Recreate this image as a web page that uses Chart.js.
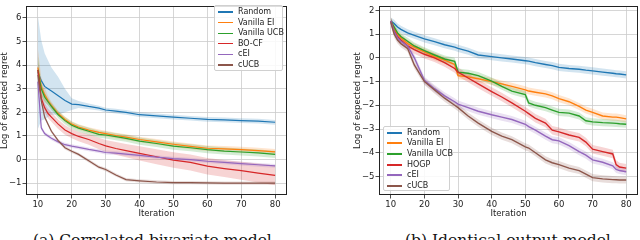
<!DOCTYPE html>
<html><head><meta charset="utf-8">
<script src="https://cdn.jsdelivr.net/npm/chart.js@4"></script>
<style>
html,body{margin:0;padding:0;background:#fff;width:640px;height:240px;overflow:hidden;position:relative;font-family:"DejaVu Sans",sans-serif;}
canvas{position:absolute;top:0;}
.legend{position:absolute;background:rgba(255,255,255,0.85);border:1px solid #d0d0d0;border-radius:2px;box-sizing:border-box;}
.item{position:absolute;left:0;height:10px;font-size:8px;line-height:10px;color:#222;white-space:nowrap;}
.item i{position:absolute;top:4.5px;width:15px;height:1.3px;}
.item span{position:absolute;}
.cap{position:absolute;top:231px;font-family:"DejaVu Serif",serif;font-size:15.5px;color:#111;white-space:nowrap;}
</style></head>
<body>
<canvas id="c1" width="320" height="220" style="left:0;width:320px;height:220px"></canvas>
<canvas id="c2" width="320" height="220" style="left:320px;width:320px;height:220px"></canvas>
<div id="lg1" class="legend" style="left:214px;top:5px;width:69px;height:66px"></div>
<div id="lg2" class="legend" style="left:383px;top:126px;width:67px;height:65px"></div>
<div class="cap" style="left:33px">(a) Correlated bivariate model</div>
<div class="cap" style="left:405px">(b) Identical output model</div>
<script>
// ---------------- data: left chart ----------------
const itersA = [10,11,12,13,14,16,18,20,22,25,28,30,33,36,40,45,50,55,60,65,70,75,80];
const namesA = ['Random','Vanilla EI','Vanilla UCB','BO-CF','cEI','cUCB'];
const randomA = [3.7,3.35,3.1,3.0,2.9,2.7,2.5,2.35,2.33,2.25,2.18,2.1,2.05,2.0,1.9,1.85,1.8,1.75,1.7,1.68,1.65,1.63,1.58];
const randomBandA = [2.4,1.7,1.4,1.2,1.0,0.8,0.5,0.25,0.15,0.12,0.1,0.1,0.1,0.1,0.1,0.1,0.1,0.1,0.1,0.1,0.1,0.1,0.1];
const vEIA = [3.9,3.1,2.75,2.5,2.3,1.95,1.7,1.5,1.38,1.25,1.15,1.1,1.02,0.95,0.85,0.75,0.65,0.56,0.48,0.45,0.42,0.38,0.33];
const vEIBandA = [0.8,0.4,0.3,0.2,0.15,0.12,0.12,0.12,0.12,0.12,0.12,0.12,0.12,0.12,0.12,0.12,0.12,0.12,0.12,0.12,0.12,0.12,0.12];
const vUCBA = [3.8,3.0,2.65,2.45,2.25,1.9,1.65,1.45,1.33,1.2,1.07,1.04,0.97,0.9,0.78,0.68,0.57,0.5,0.42,0.36,0.32,0.28,0.22];
const vUCBBandA = [0.6,0.3,0.2,0.15,0.15,0.15,0.15,0.15,0.15,0.15,0.15,0.15,0.15,0.15,0.15,0.15,0.15,0.15,0.15,0.15,0.15,0.15,0.15];
const bocfA = [3.8,2.6,2.2,1.95,1.8,1.5,1.25,1.1,0.98,0.85,0.68,0.58,0.47,0.38,0.26,0.12,-0.02,-0.12,-0.28,-0.38,-0.47,-0.57,-0.67];
const bocfBandA = [0.3,0.2,0.2,0.2,0.2,0.2,0.2,0.2,0.2,0.22,0.24,0.25,0.27,0.28,0.3,0.32,0.33,0.34,0.35,0.36,0.38,0.4,0.42];
const ceiA = [3.3,1.35,1.1,1.0,0.9,0.75,0.63,0.57,0.52,0.43,0.36,0.3,0.27,0.23,0.18,0.1,0.04,0.0,-0.07,-0.12,-0.17,-0.22,-0.27];
const ceiBandA = [0.3,0.1,0.08,0.08,0.08,0.08,0.08,0.08,0.08,0.08,0.08,0.08,0.08,0.08,0.08,0.08,0.08,0.08,0.08,0.08,0.08,0.08,0.08];
const cucbA = [3.6,2.5,1.8,1.5,1.2,0.8,0.5,0.35,0.22,-0.05,-0.32,-0.42,-0.65,-0.85,-0.9,-0.95,-0.98,-0.98,-0.99,-1.0,-1.0,-1.0,-1.0];
const cucbBandA = [0.2,0.1,0.08,0.08,0.07,0.07,0.07,0.07,0.07,0.07,0.07,0.07,0.07,0.07,0.07,0.07,0.07,0.07,0.07,0.07,0.07,0.07,0.07];
const xTicksA = [10,20,30,40,50,60,70,80];
const yTicksA = [-1,0,1,2,3,4,5,6];

// ---------------- data: right chart ----------------
const itersB = [10,11,12,13,15,17,20,23,26,29,30,33,36,40,43,46,50,51,53,56,58,60,63,66,68,70,73,76,77,78,80];
const namesB = ['Random','Vanilla EI','Vanilla UCB','HOGP','cEI','cUCB'];
const randomB = [1.55,1.45,1.3,1.2,1.05,0.95,0.8,0.68,0.55,0.45,0.4,0.28,0.12,0.05,0.0,-0.05,-0.12,-0.14,-0.2,-0.28,-0.33,-0.4,-0.45,-0.48,-0.52,-0.55,-0.6,-0.65,-0.67,-0.68,-0.72];
const vEIB = [1.55,1.25,1.0,0.85,0.6,0.45,0.25,0.05,-0.1,-0.28,-0.75,-0.8,-0.88,-1.0,-1.1,-1.2,-1.35,-1.4,-1.45,-1.52,-1.6,-1.72,-1.85,-2.05,-2.2,-2.3,-2.45,-2.5,-2.5,-2.52,-2.57];
const vUCBB = [1.55,1.3,1.05,0.9,0.7,0.5,0.3,0.12,-0.05,-0.15,-0.6,-0.65,-0.75,-0.98,-1.2,-1.4,-1.55,-1.9,-2.0,-2.1,-2.2,-2.3,-2.33,-2.45,-2.65,-2.7,-2.73,-2.75,-2.76,-2.78,-2.8];
const hogpB = [1.55,1.15,0.9,0.75,0.5,0.35,0.15,0.0,-0.2,-0.45,-0.6,-0.85,-1.1,-1.42,-1.65,-1.9,-2.25,-2.35,-2.55,-2.75,-3.05,-3.12,-3.25,-3.35,-3.55,-3.85,-3.95,-4.05,-4.5,-4.6,-4.65];
const ceiB = [1.55,1.1,0.85,0.7,0.5,0.0,-0.95,-1.3,-1.6,-1.85,-1.95,-2.1,-2.25,-2.4,-2.5,-2.6,-2.8,-2.9,-3.05,-3.3,-3.45,-3.5,-3.7,-3.95,-4.1,-4.3,-4.4,-4.55,-4.7,-4.75,-4.8];
const cucbB = [1.5,1.0,0.75,0.6,0.4,-0.3,-1.0,-1.35,-1.7,-2.0,-2.1,-2.45,-2.75,-3.1,-3.3,-3.45,-3.75,-3.8,-4.0,-4.3,-4.42,-4.5,-4.65,-4.75,-4.9,-5.05,-5.1,-5.13,-5.14,-5.15,-5.15];
const bandB = [0.15,0.15,0.15,0.18,0.15,0.15];
const xTicksB = [10,20,30,40,50,60,70,80];
const yTicksB = [-5,-4,-3,-2,-1,0,1,2];

const colors = ['#1f77b4','#ff7f0e','#2ca02c','#d62728','#9467bd','#8c564b'];

function rgba(hex,a){const n=parseInt(hex.slice(1),16);return `rgba(${n>>16&255},${n>>8&255},${n&255},${a})`;}
function fmt(v){return v<0?'\u2212'+Math.abs(v):String(v);}

function buildDatasets(xs, series, bands, lw){
  const ds=[];
  series.forEach((vals,i)=>{
    const b=bands[i];
    const bw = j => Array.isArray(b)?b[j]:b;
    ds.push({data:xs.map((x,j)=>({x,y:vals[j]-bw(j)})),borderWidth:0,borderColor:'rgba(0,0,0,0)',pointRadius:0,fill:false,order:30-i,tension:0});
    ds.push({data:xs.map((x,j)=>({x,y:vals[j]+bw(j)})),borderWidth:0,borderColor:'rgba(0,0,0,0)',backgroundColor:rgba(colors[i],0.2),pointRadius:0,fill:'-1',order:30-i,tension:0});
  });
  series.forEach((vals,i)=>{
    ds.push({data:xs.map((x,j)=>({x,y:vals[j]})),borderWidth:lw,borderColor:colors[i],pointRadius:0,fill:false,order:10-i,tension:0});
  });
  return ds;
}

const frame={id:'frame',afterDraw(c){const a=c.chartArea,ctx=c.ctx;ctx.save();ctx.strokeStyle='#222';ctx.lineWidth=1;ctx.strokeRect(Math.round(a.left)+0.5,Math.round(a.top)+0.5,Math.round(a.right-a.left)-1,Math.round(a.bottom-a.top)-1);ctx.restore();}};

function makeChart(id, xs, series, bands, xr, yr, xt, yt, pad, lw){
  const font={family:'DejaVu Sans',size:8.5};
  new Chart(document.getElementById(id),{
    type:'line',
    data:{datasets:buildDatasets(xs,series,bands,lw)},
    options:{
      responsive:false,animation:false,devicePixelRatio:1,
      layout:{padding:pad},
      plugins:{legend:{display:false},tooltip:{enabled:false}},
      scales:{
        x:{type:'linear',min:xr[0],max:xr[1],
          afterBuildTicks:s=>{s.ticks=xt.map(v=>({value:v}));},
          afterFit:s=>{s.height=25;},
          ticks:{font,color:'#222',padding:1,callback:v=>fmt(v),maxRotation:0},
          grid:{color:'#cccccc',lineWidth:0.8,tickLength:3.5,tickColor:'#222'},
          border:{display:false},
          title:{display:true,text:'Iteration',font,color:'#222',padding:{top:0,bottom:1}}},
        y:{type:'linear',min:yr[0],max:yr[1],
          afterBuildTicks:s=>{s.ticks=yt.map(v=>({value:v}));},
          afterFit:s=>{s.width=26;},
          ticks:{font,color:'#222',padding:1,callback:v=>fmt(v)},
          grid:{color:'#cccccc',lineWidth:0.8,tickLength:3.5,tickColor:'#222'},
          border:{display:false},
          title:{display:true,text:'Log of expected regret',font,color:'#222',padding:{top:0,bottom:0}}}
      }
    },
    plugins:[frame]
  });
}

makeChart('c1', itersA, [randomA,vEIA,vUCBA,bocfA,ceiA,cucbA],
  [randomBandA,vEIBandA,vUCBBandA,bocfBandA,ceiBandA,cucbBandA],
  [6.5,83.5],[-1.5,6.5],xTicksA,yTicksA,{left:0,right:33,top:2,bottom:0},1.2);
makeChart('c2', itersB, [randomB,vEIB,vUCBB,hogpB,ceiB,cucbB], bandB,
  [6.5,83.5],[-5.78,2.18],xTicksB,yTicksB,{left:33,right:2,top:2,bottom:0},1.4);

function legend(id, names, lineH, off){
  const el=document.getElementById(id);
  names.forEach((n,i)=>{
    const d=document.createElement('div');d.className='item';
    d.style.top=(off+i*10.6)+'px';d.style.width='100%';
    d.innerHTML=`<i style="left:3px;background:${colors[i]};height:${lineH}px;top:${5-lineH/2}px"></i><span style="left:23px">${n}</span>`;
    el.appendChild(d);
  });
}
legend('lg1',namesA,1.3,1);
legend('lg2',namesB,2,0.7);
</script>
</body></html>
